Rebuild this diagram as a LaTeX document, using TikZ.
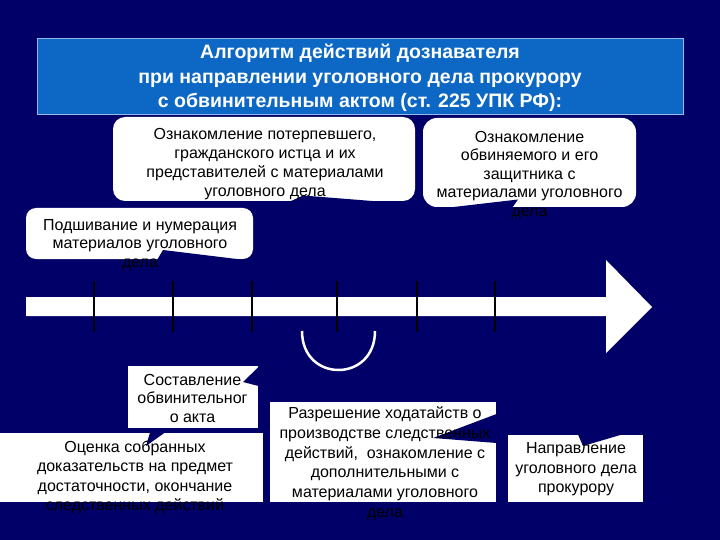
\documentclass[tikz,border=0pt]{standalone}
\usepackage{fontspec}
\setmainfont{Liberation Sans}
\definecolor{navy}{RGB}{0,0,104}
\definecolor{titleblue}{RGB}{12,104,196}
\definecolor{titleedge}{RGB}{150,185,235}
\begin{document}
\begin{tikzpicture}[x=1pt,y=-1pt,
  txt/.style={anchor=north, inner sep=0pt, align=center, font=\fontsize{16}{19}\selectfont, text=black},
  rbox/.style={fill=white, rounded corners=12pt, inner sep=0pt},
  sbox/.style={fill=white, inner sep=0pt},
  notch/.style={fill=navy},
  tick/.style={black, line width=1.4pt}]
\fill[navy] (0,0) rectangle (720,540);
\useasboundingbox (0,0) rectangle (720,540);

% title
\node[draw=titleedge, line width=0.8pt, fill=titleblue, minimum width=646pt, minimum height=76pt,
      inner sep=0pt] (title) at (360,76) {};
\node[align=center, text=white, inner sep=0pt, font=\bfseries\fontsize{19.5}{24.5}\selectfont]
  (titletext) at (360,78) {Алгоритм действий дознавателя\\при направлении уголовного дела прокурору\\с обвинительным актом (ст. 225 УПК РФ):};

% timeline arrow
\fill[white] (26,297) -- (606,297) -- (606,260) -- (652,307) -- (606,353) -- (606,316) -- (26,316) -- cycle;
\foreach \x in {94,173,252,337,417,495} \draw[tick] (\x,281) -- (\x,332);
\draw[white, line width=2.5pt] (302,331) .. controls (302,383) and (375,383) .. (375,331);

% boxes
\node[rbox, minimum width=302pt, minimum height=84pt] (b1) at (264,159) {};
\node[rbox, rounded corners=14pt, minimum width=213pt, minimum height=89pt] (b2) at (529.5,162.5) {};
\node[rbox, rounded corners=10pt, minimum width=227pt, minimum height=51pt] (b3) at (139.5,233.5) {};
\node[sbox, minimum width=130pt, minimum height=62pt] (b4) at (193,397) {};
\node[sbox, minimum width=265pt, minimum height=69pt] (b5) at (130.5,467.5) {};
\node[sbox, minimum width=226pt, minimum height=100pt] (b6) at (383,452) {};
\node[sbox, minimum width=135pt, minimum height=67pt] (b7) at (575.5,468.5) {};

% navy notches (callout tails)
\fill[notch] (289,202) -- (303,195.5) -- (385,202) -- cycle;
\fill[notch] (445,208) -- (518,199.5) -- (512,208) -- cycle;
\fill[notch] (157,260) -- (163,250) -- (245,260) -- cycle;
\fill[notch] (258.5,367) -- (243,382) -- (258.5,386) -- cycle;
\fill[notch] (150,432.5) -- (165,432.5) -- (146,446) -- cycle;
\fill[notch] (496.5,414) -- (433,438) -- (496.5,443) -- cycle;
\fill[notch] (578,434.5) -- (583,446) -- (622,434.5) -- cycle;

% texts
\node[txt] (t1) at (265,125.7) {\strut Ознакомление потерпевшего,\\гражданского истца и их\\представителей с материалами\\уголовного дела};
\node[txt, font=\fontsize{16}{18.5}\selectfont] (t2) at (529.5,129) {\strut Ознакомление\\обвиняемого и его\\защитника с\\материалами уголовного\\дела};
\node[txt, font=\fontsize{16}{18.5}\selectfont] (t3) at (140,217) {\strut Подшивание и нумерация\\материалов уголовного\\дела};
\node[txt, font=\fontsize{16}{18.5}\selectfont] (t4) at (192.5,372) {\strut Составление\\обвинительног\\о акта};
\node[txt, font=\fontsize{16}{19.3}\selectfont] (t5) at (135,438.7) {\strut Оценка собранных\\доказательств на предмет\\достаточности, окончание\\следственных действий};
\node[txt, font=\fontsize{16}{19.8}\selectfont] (t6) at (385,404.5) {\strut Разрешение ходатайств о\\производстве следственных\\действий,\ \ ознакомление с\\дополнительными с\\материалами уголовного\\дела};
\node[txt, font=\fontsize{16}{19.5}\selectfont] (t7) at (576,439.7) {\strut Направление\\уголовного дела\\прокурору};
\end{tikzpicture}
\end{document}
